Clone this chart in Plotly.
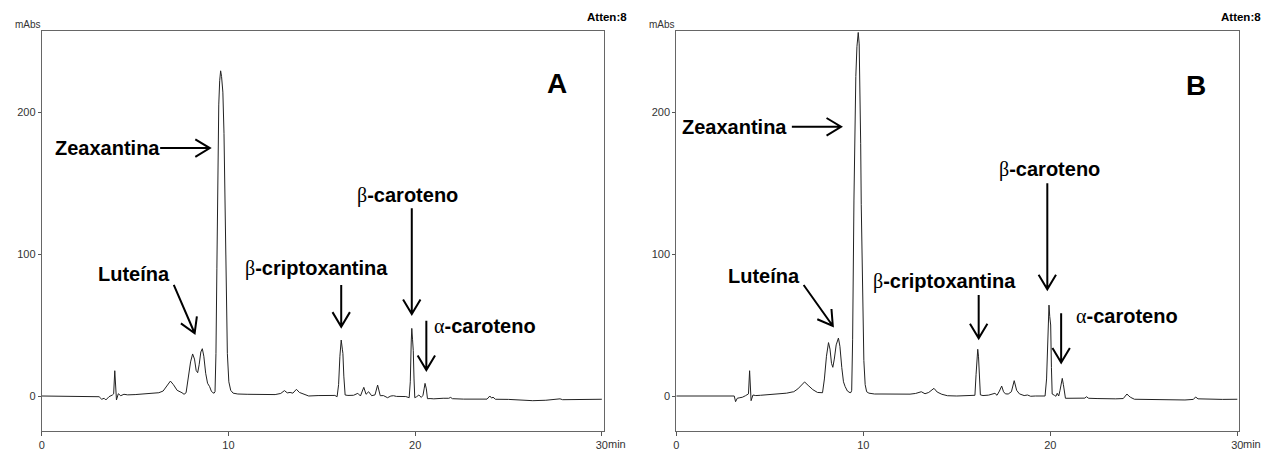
import math
import plotly.graph_objects as go

# ---------------- data ----------------
time_a = [0, 3.0, 3.07, 3.21, 3.34, 3.43, 3.6, 3.78, 3.85, 3.91, 3.96, 4.0, 4.1, 4.23, 4.4, 4.6, 5.0, 5.38, 5.8,
          6.27, 6.5, 6.7, 6.89, 7.05, 7.25, 7.51, 7.62, 7.73, 7.85, 7.97, 8.08, 8.18, 8.27, 8.35, 8.43, 8.52, 8.6,
          8.68, 8.78, 8.88, 8.99, 9.08, 9.16, 9.23, 9.28, 9.33, 9.38, 9.42, 9.48, 9.53, 9.58, 9.63, 9.7, 9.76, 9.81,
          9.87, 9.94, 10.02, 10.12, 10.25, 10.5, 11.0, 11.5, 12.0, 12.5, 12.8, 13.0, 13.15, 13.3, 13.45, 13.64,
          13.8, 14.0, 14.3, 14.8, 15.3, 15.7, 15.82, 15.9, 15.97, 16.04, 16.1, 16.13, 16.18, 16.25, 16.4, 16.7,
          16.93, 17.07, 17.17, 17.25, 17.37, 17.51, 17.67, 17.85, 17.99, 18.13, 18.3, 18.52, 18.7, 18.84, 19.0,
          19.23, 19.5, 19.68, 19.74, 19.79, 19.82, 19.86, 19.9, 19.94, 19.98, 20.08, 20.2, 20.33, 20.42, 20.48,
          20.53, 20.6, 20.66, 20.8, 21.0, 21.5, 21.8, 21.9, 22.0, 22.6, 23.0, 23.5, 23.85, 24.0, 24.1, 24.17, 24.3,
          25.0, 25.5, 26.3, 27.0, 27.6, 27.76, 27.9, 28.5, 29.2, 30.0]
mabs_a = [0, 0, -0.5, -2.3, -1.6, -2.8, -0.5, 0.7, 1.5, 17.8, 5, -2.8, 1.6, 0.2, 1.2, 0.8, 1.0, 1.4, 1.8,
          2.3, 3.5, 7, 10.5, 8, 4, 2.3, 1.2, 2.3, 12, 24, 29.6, 26, 18, 16.4, 22, 31, 33.3,
          28, 16, 9, 6.6, 3.5, 2.3, 2, 3, 30, 90, 150, 205, 222, 229, 225, 214, 185, 135,
          75, 30, 10, 4, 2, 1.4, 1.2, 1.2, 1.3, 1.0, 1.8, 3.8, 2.2, 2.5, 2.0, 4.7,
          2.5, 1.5, 0, 0.3, 0.5, 0.4, -0.5, 8, 28, 39.4, 33, 30, 14, 0.7, 0.4, 0.5,
          1.9, 0, 3.5, 6.1, 1.2, 3.0, 0.2, 0.8, 7.7, 0.2, 0.3, -1.2, 0, 0.2, -0.3,
          -0.5, -0.4, -1.2, 10, 38, 47.6, 40, 32, 12, -1.2, -0.5, 0.7, -1, 0.5, 5,
          8.9, 5, -1.9, -1.8, -2.0, -1.6, -1.6, -1.0, -1.9, -2.2, -2.3, -2.3, -2.2, 0, -1.5, -0.8, -2.3,
          -2.4, -2.8, -3.3, -3.0, -2.6, -2.0, -2.6, -2.5, -2.4, -2.3]

time_b = [0, 3.1, 3.17, 3.26, 3.4, 3.53, 3.7, 3.79, 3.86, 3.92, 3.96, 4.0, 4.1, 4.25, 4.5, 5.0, 5.48, 5.9, 6.19,
          6.28, 6.5, 6.7, 6.86, 7.05, 7.3, 7.55, 7.78, 7.82, 7.92, 8.03, 8.14, 8.22, 8.3, 8.37, 8.45, 8.55, 8.67,
          8.75, 8.85, 8.94, 9.03, 9.15, 9.29, 9.34, 9.38, 9.43, 9.5, 9.56, 9.6, 9.66, 9.73, 9.78, 9.82, 9.86, 9.89,
          9.95, 10.03, 10.1, 10.18, 10.3, 10.6, 11.0, 11.5, 12.0, 12.5, 12.8, 13.1, 13.3, 13.5, 13.78, 13.95, 14.2,
          14.5, 15.0, 15.5, 15.85, 15.97, 16.03, 16.08, 16.12, 16.16, 16.2, 16.26, 16.4, 16.7, 17.04, 17.15, 17.28,
          17.4, 17.5, 17.6, 17.75, 17.92, 18.07, 18.2, 18.35, 18.6, 18.78, 18.95, 19.2, 19.5, 19.72, 19.8, 19.86,
          19.93, 19.97, 20.02, 20.06, 20.1, 20.22, 20.3, 20.37, 20.45, 20.52, 20.58, 20.64, 20.7, 20.81, 21.0, 21.5,
          21.85, 21.93, 22.05, 22.5, 23.03, 23.5, 23.9, 24.1, 24.2, 24.3, 24.5, 25.2, 26.0, 26.5, 27.2, 27.65,
          27.77, 27.9, 28.5, 29.2, 30.0]
mabs_b = [0, 0, -4, -1.6, -1.2, -0.9, 0.2, 0.7, 1.5, 17.8, 5, -3.3, 0.7, 0.3, 0.5, 0.9, 1.4, 2.0, 2.8,
          3.0, 5, 8, 9.9, 7.5, 4.5, 2.5, 1.9, 2.3, 12, 28, 37.6, 33, 23, 20.2, 26, 36, 40.8,
          35, 20, 10, 6.6, 3.5, 2.3, 2.5, 4, 40, 138, 200, 225, 246, 256, 248, 220, 178, 135,
          70, 25, 8, 3, 2, 1.4, 1.4, 1.2, 1.4, 1.3, 1.8, 3.0, 1.6, 2.5, 5.4, 2.8, 1.2,
          0.2, 0, 0.3, 0, 0.5, 15, 28, 32.9, 28, 12, 0.8, 0.3, 0.6, 1.9, 0.5, 3.5,
          7, 3, 1.5, 1.4, 3, 10.8, 4, 1.5, 0.3, 0.7, -0.2, 0, -0.2, 0, 12, 45,
          64, 56, 50, 20, 1.4, 0.5, -0.2, 1.9, 0, 4, 10, 12.4, 8, -1.6, -1.6, -1.8,
          -1.5, -0.5, -1.6, -1.8, -2.0, -2.0, -1.8, 1.4, 0, -1.0, -2.3, -2.4, -2.5, -3.0, -2.8, -2.4,
          -0.7, -2.0, -2.3, -2.4, -2.3]

x_ticks = [0, 10, 20, 30]
y_ticks = [0, 100, 200]

GREEK = "<span style=\"font-family:'Liberation Serif';font-weight:normal\">{}</span>"
# labels: (text, time, mAbs)
labels_a = [("Zeaxantina", 3.52, 174.6),
            ("Luteína", 4.95, 85.9),
            (GREEK.format("β") + "-criptoxantina", 14.73, 89.9),
            (GREEK.format("β") + "-caroteno", 19.6, 141.5),
            (GREEK.format("α") + "-caroteno", 23.76, 49.3)]
labels_b = [("Zeaxantina", 3.1, 189.6),
            ("Luteína", 4.7, 84.5),
            (GREEK.format("β") + "-criptoxantina", 14.32, 80.5),
            (GREEK.format("β") + "-caroteno", 19.98, 159.2),
            (GREEK.format("α") + "-caroteno", 24.12, 56.3)]

# arrows: (t_start, v_start, t_tip, v_tip)
arrows_a = [(6.34, 174.6, 9.0, 174.6), (7.07, 78.2, 8.19, 44.2), (16.04, 78.2, 16.04, 48.8),
            (19.82, 132.2, 19.82, 57.7), (20.6, 53.0, 20.6, 18.3)]
arrows_b = [(6.18, 189.6, 8.81, 189.6), (6.81, 78.2, 8.37, 49.3), (16.17, 71.1, 16.17, 40.6),
            (19.84, 149.8, 19.84, 75.1), (20.58, 58.2, 20.58, 23.5)]

# ---------------- layout geometry ----------------
W, H = 1276, 453
TOP_PX, BOT_PX = 31, 431
PANELS = {"A": (39, 604), "B": (677, 1243)}
XR = [0, 30.1]
YR = [-24.65, 257.04]
FONT = "Arial, 'Liberation Sans', sans-serif"


def to_px(panel, t, v):
    x0, x1 = PANELS[panel]
    x = x0 + (t - XR[0]) / (XR[1] - XR[0]) * (x1 - x0)
    y = BOT_PX - (v - YR[0]) / (YR[1] - YR[0]) * (BOT_PX - TOP_PX)
    return x, y


def px_to_paper(x, y):
    return x / W, 1 - y / H


fig = go.Figure()
fig.add_trace(go.Scatter(x=time_a, y=mabs_a, mode="lines", line=dict(color="#222", width=1),
                         xaxis="x", yaxis="y", hoverinfo="skip", showlegend=False))
fig.add_trace(go.Scatter(x=time_b, y=mabs_b, mode="lines", line=dict(color="#222", width=1),
                         xaxis="x2", yaxis="y2", hoverinfo="skip", showlegend=False))

ydom = [1 - BOT_PX / H, 1 - TOP_PX / H]
axis_common = dict(showline=True, mirror=True, linecolor="#666", linewidth=1, showgrid=False,
                   zeroline=False, ticks="outside", tickcolor="#555", tickwidth=1,
                   tickfont=dict(family=FONT, size=11, color="#333"), fixedrange=True)

layout = dict(width=W, height=H, margin=dict(l=0, r=0, t=0, b=0),
              paper_bgcolor="white", plot_bgcolor="white", showlegend=False)
for i, (name, (x0, x1)) in enumerate(PANELS.items()):
    sx = "" if i == 0 else str(i + 1)
    layout["xaxis" + sx] = dict(axis_common, domain=[x0 / W, x1 / W], range=XR, tickvals=x_ticks,
                                ticklen=4, anchor="y" + sx)
    layout["yaxis" + sx] = dict(axis_common, domain=ydom, range=YR, tickvals=y_ticks,
                                ticklen=3, anchor="x" + sx)
fig.update_layout(**layout)

annotations = []
shapes = []
for panel, labels, arrows, xr, yr in (("A", labels_a, arrows_a, "x", "y"),
                                      ("B", labels_b, arrows_b, "x2", "y2")):
    for text, t, v in labels:
        annotations.append(dict(text=text, x=t, y=v, xref=xr, yref=yr, xanchor="center", yanchor="middle",
                                showarrow=False, font=dict(family=FONT, size=20, color="black", weight="bold")))
    for (ts, vs, tt, vt) in arrows:
        xs, ys = to_px(panel, ts, vs)
        xt, yt = to_px(panel, tt, vt)
        dx, dy = xt - xs, yt - ys
        n = math.hypot(dx, dy)
        ux, uy = dx / n, dy / n
        L, th = 17, math.radians(31)
        arms = []
        for s in (1, -1):
            c, sn = math.cos(s * th), math.sin(s * th)
            rx, ry = ux * c - uy * sn, ux * sn + uy * c
            arms.append((xt - L * rx, yt - L * ry))
        pts = [px_to_paper(*p) for p in [(xs, ys), (xt, yt), arms[0], arms[1]]]
        path = (f"M {pts[0][0]:.5f} {pts[0][1]:.5f} L {pts[1][0]:.5f} {pts[1][1]:.5f} "
                f"M {pts[2][0]:.5f} {pts[2][1]:.5f} L {pts[1][0]:.5f} {pts[1][1]:.5f} "
                f"L {pts[3][0]:.5f} {pts[3][1]:.5f}")
        shapes.append(dict(type="path", path=path, xref="paper", yref="paper",
                           line=dict(color="black", width=2)))
    # panel letter
    tl, vl = (27.61, 220.2) if panel == "A" else (27.81, 218.9)
    annotations.append(dict(text=panel, x=tl, y=vl, xref=xr, yref=yr, showarrow=False,
                            xanchor="center", yanchor="middle",
                            font=dict(family=FONT, size=28, color="black", weight="bold")))

# header texts
for left_mabs, right_atten, min_left in ((10, 629, 606), (648, 1267, 1245)):
    annotations.append(dict(text="mAbs", x=left_mabs / W, y=1 - 25 / H, xref="paper", yref="paper",
                            xanchor="left", yanchor="middle", showarrow=False,
                            font=dict(family=FONT, size=10, color="#333")))
    annotations.append(dict(text="Atten:8", x=right_atten / W, y=1 - 17 / H, xref="paper", yref="paper",
                            xanchor="right", yanchor="middle", showarrow=False,
                            font=dict(family=FONT, size=11.5, color="black", weight="bold")))
    annotations.append(dict(text="min", x=min_left / W, y=1 - 443.5 / H, xref="paper", yref="paper",
                            xanchor="left", yanchor="middle", showarrow=False,
                            font=dict(family=FONT, size=11, color="#333")))

fig.update_layout(annotations=annotations, shapes=shapes)
fig.write_html("out.html", config={"displayModeBar": False},
               post_script="document.body.style.margin='0';document.body.style.overflow='hidden';")
